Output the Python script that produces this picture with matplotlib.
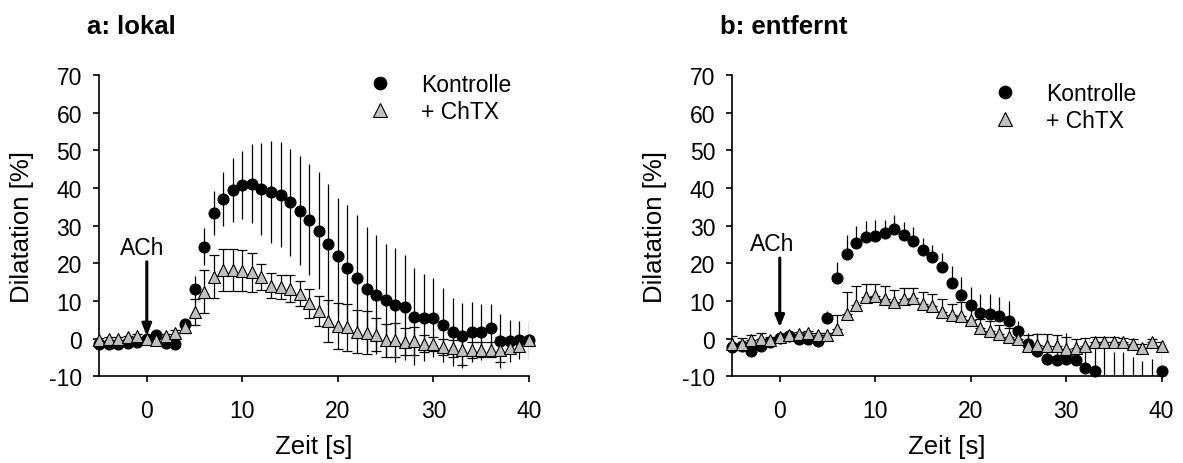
import numpy as np
import matplotlib
matplotlib.use("Agg")
import matplotlib.pyplot as plt

plt.rcParams['font.family'] = ['Liberation Sans', 'DejaVu Sans']
plt.rcParams['axes.unicode_minus'] = False

# Zeit [s]
zeit = [-5, -4, -3, -2, -1, 0, 1, 2, 3, 4, 5, 6, 7, 8, 9, 10, 11, 12, 13, 14,
        15, 16, 17, 18, 19, 20, 21, 22, 23, 24, 25, 26, 27, 28, 29, 30, 31, 32,
        33, 34, 35, 36, 37, 38, 39, 40]

# a: lokal
a_kontr = [-1.4, -1.4, -1.4, -1.2, -0.8, 0.0, 0.9, -1.2, -1.4, 3.9, 13.2, 24.4,
           33.4, 37.1, 39.5, 40.8, 41.1, 39.8, 38.9, 38.2, 36.2, 34.0, 31.6, 28.7,
           25.0, 21.9, 18.8, 16.1, 13.2, 11.7, 10.3, 9.0, 8.3, 5.8, 5.6, 5.6, 3.6,
           1.8, 0.8, 1.8, 1.8, 2.7, -0.6, -0.6, -0.3, -0.4]
a_kontr_sd = [0.5, 0.5, 0.5, 0.5, 0.5, 0.5, 0.5, 0.5, 0.5, 1.2, 3.5, 4.9, 5.8,
              7.2, 8.5, 9.1, 10.5, 12.2, 13.6, 14.0, 14.2, 14.5, 14.8, 15.5, 16.1,
              15.4, 16.6, 16.6, 16.4, 15.7, 14.8, 15.1, 13.9, 12.9, 11.5, 10.4,
              9.8, 9.1, 8.7, 8.0, 7.4, 6.5, 7.1, 5.6, 5.1, 5.0]
a_chtx = [-0.3, -0.1, -0.1, 0.3, 0.8, 0.0, -0.3, 0.8, 1.5, 3.0, 7.0, 12.5, 16.4,
          18.2, 18.2, 18.0, 17.6, 16.3, 14.1, 13.7, 13.2, 11.9, 9.4, 7.4, 4.6,
          3.4, 3.0, 1.8, 1.5, 1.0, -0.4, -0.4, -0.8, -0.6, -1.3, -1.5, -2.2, -2.6,
          -3.0, -3.0, -2.9, -2.9, -2.9, -2.6, -1.9, -0.3]
a_chtx_sd = [0.5, 0.5, 0.5, 0.5, 0.5, 0.5, 0.5, 0.5, 0.8, 1.5, 3.4, 5.7, 5.7,
             5.5, 5.5, 5.4, 5.1, 3.5, 3.3, 3.2, 3.6, 3.3, 3.8, 4.0, 5.6, 6.1, 6.2,
             5.7, 5.7, 4.4, 4.4, 4.6, 3.5, 3.8, 2.2, 1.8, 2.2, 2.2, 4.0, 2.2, 2.0,
             2.0, 3.3, 1.2, 1.2, 1.0]

# b: entfernt
b_kontr = [-2.3, -1.9, -3.4, -2.0, -0.8, 0.1, 0.8, 0.0, -0.1, -0.6, 5.4, 16.1,
           22.5, 25.3, 26.9, 27.3, 28.0, 29.0, 27.4, 25.8, 23.6, 21.6, 18.9, 14.8,
           11.6, 8.8, 6.8, 6.6, 6.1, 4.8, 2.1, -1.4, -3.4, -5.3, -5.8, -5.3, -5.6,
           -7.7, -8.7, -12.0, -13.0, -13.0, -14.0, -15.0, -14.0, -8.6]
b_kontr_sd = [1.0, 1.0, 1.0, 1.0, 1.0, 1.0, 1.0, 1.0, 1.0, 1.0, 2.0, 4.2, 4.9,
              4.7, 4.3, 4.1, 3.6, 3.9, 3.5, 3.8, 3.2, 3.2, 3.8, 4.6, 4.7, 4.9, 5.1,
              5.3, 4.9, 5.3, 2.7, 2.9, 4.9, 6.5, 6.6, 6.9, 5.1, 6.0, 8.4, 9.5, 9.5,
              9.5, 9.0, 9.1, 8.6, 5.8]
b_chtx = [-1.4, -1.4, -0.5, -0.1, -0.4, 0.3, 1.0, 1.2, 1.5, 1.0, 1.0, 2.5, 6.5,
          9.0, 11.0, 11.2, 10.4, 9.8, 10.5, 10.7, 9.2, 8.6, 7.0, 6.2, 6.1, 5.0,
          2.7, 2.1, 1.2, 0.3, -0.1, -2.0, -1.7, -1.9, -2.0, -2.7, -2.6, -1.9, -1.0,
          -1.0, -1.0, -1.0, -1.4, -2.6, -1.0, -2.0]
b_chtx_sd = [2.0, 1.5, 1.5, 1.5, 0.8, 0.5, 0.5, 0.5, 0.5, 0.5, 0.5, 3.7, 5.8,
             5.1, 3.5, 3.4, 3.7, 3.1, 2.9, 2.8, 3.1, 3.3, 3.5, 2.9, 3.5, 3.3, 2.5,
             2.5, 2.5, 2.5, 2.5, 3.0, 3.0, 3.0, 3.0, 3.0, 2.5, 2.0, 1.5, 1.5, 1.5,
             1.2, 1.2, 1.2, 1.0, 1.0]

titles = ['a: lokal', 'b: entfernt']
ach_text = [(-0.5, 22.5), (-0.8, 23.4)]
ach_arrow = [(20.4, 0.7), (21.4, 3.0)]
legend_pos = [(0.627, 1.008), (0.608, 0.978)]

fig = plt.figure(figsize=(11.83, 4.64), dpi=100)
ax_a = fig.add_axes([0.0837, 0.1869, 0.3635, 0.6494])
ax_b = fig.add_axes([0.6188, 0.1869, 0.3631, 0.6494])

gray = '#c0c0c0'
panels = [
    (ax_a, a_kontr, a_kontr_sd, a_chtx, a_chtx_sd, False),
    (ax_b, b_kontr, b_kontr_sd, b_chtx, b_chtx_sd, True),
]

t = np.array(zeit)
for i, (ax, k, ksd, c, csd, upper_only) in enumerate(panels):
    k = np.array(k); ksd = np.array(ksd)
    c = np.array(c); csd = np.array(csd)
    if upper_only:
        kerr = [np.zeros_like(ksd), ksd]
        cerr = [np.zeros_like(csd), csd]
    else:
        kerr = ksd
        cerr = csd
    ax.errorbar(t, k, yerr=kerr, fmt='none', ecolor='black', elinewidth=0.9,
                capsize=0, zorder=2)
    ax.errorbar(t, c, yerr=cerr, fmt='none', ecolor='black', elinewidth=0.9,
                capsize=3.5, capthick=0.9, zorder=3)
    # points outside the axis range are not drawn
    k_vis = np.where(k >= -10, k, np.nan)
    h1, = ax.plot(t, k_vis, 'o', color='black', markersize=7.7, clip_on=False,
                  zorder=4)
    h2, = ax.plot(t, c, '^', markerfacecolor=gray, markeredgecolor='black',
                  markeredgewidth=0.8, markersize=8.5, clip_on=False, zorder=5)

    ax.set_xlim(-5, 40)
    ax.set_ylim(-10, 70)
    ax.set_xticks([0, 10, 20, 30, 40])
    ax.set_yticks([-10, 0, 10, 20, 30, 40, 50, 60, 70])
    ax.spines['top'].set_visible(False)
    ax.spines['right'].set_visible(False)
    ax.spines['left'].set_linewidth(1.2)
    ax.spines['bottom'].set_linewidth(1.2)
    ax.tick_params(axis='x', direction='out', length=4, width=1.2, pad=12.5,
                   labelsize=16.5)
    ax.tick_params(axis='y', direction='out', length=4, width=1.2, pad=8.2,
                   labelsize=16.5)

    ax.set_xlabel('Zeit [s]', fontsize=18.5)
    ax.set_ylabel('Dilatation [%]', fontsize=18.5)
    ax.xaxis.set_label_coords(0.5, -0.19)
    ax.yaxis.set_label_coords(-0.151, 0.5)

    ax.text(-0.027, 1.139, titles[i], transform=ax.transAxes, fontsize=18.5,
            fontweight='bold', ha='left', va='baseline')

    tx, ty = ach_text[i]
    ax.text(tx, ty, 'ACh', fontsize=16.5, ha='center', va='baseline')
    y0, y1 = ach_arrow[i]
    ax.annotate('', xy=(0, y1), xytext=(0, y0),
                arrowprops=dict(arrowstyle='-|>,head_length=0.7,head_width=0.28',
                                lw=2.2, color='black', mutation_scale=10,
                                shrinkA=0, shrinkB=0))

    ax.legend([h1, h2], ['Kontrolle', '+ ChTX'], loc='upper left',
              bbox_to_anchor=legend_pos[i], frameon=False, fontsize=16.5,
              handlelength=1.0, handletextpad=1.3, labelspacing=0.2,
              borderpad=0, borderaxespad=0, markerscale=1.15)

fig.savefig('out.png', dpi=100)
